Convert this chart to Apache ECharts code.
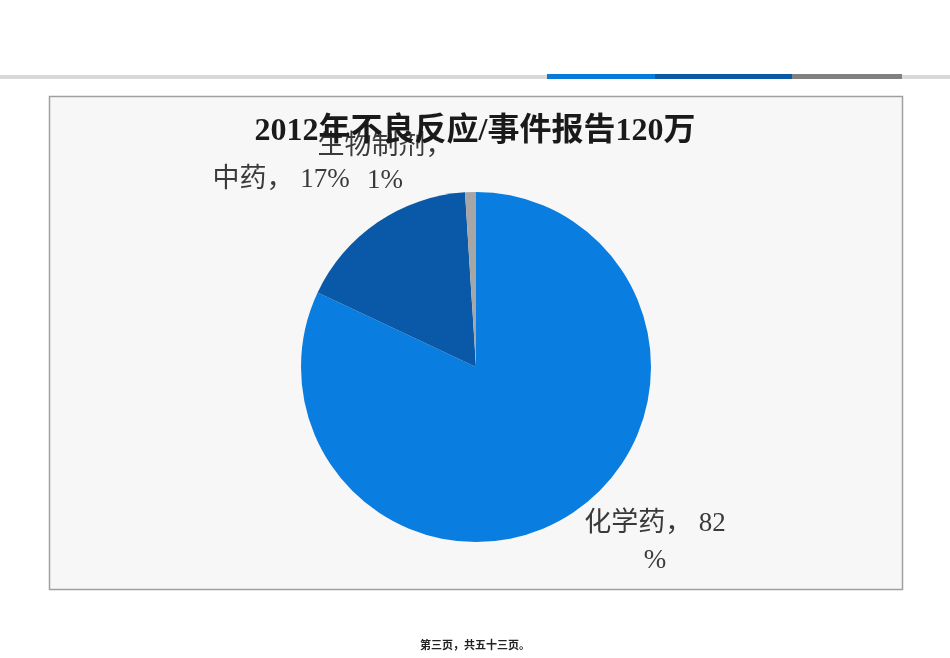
<!DOCTYPE html>
<html>
<head>
<meta charset="utf-8">
<script src="https://cdn.jsdelivr.net/npm/echarts@6/dist/echarts.min.js"></script>
<style>
html,body{margin:0;padding:0;background:#fff;}
#c{width:950px;height:658px;}
</style>
</head>
<body>
<div id="c"></div>
<script>
// ---- data ----
const titleText = '2012年不良反应/事件报告120万';
const categories = ['化学药', '中药', '生物制剂'];
const values = [82, 17, 1];
const colors = ['#0a7de0', '#0959a8', '#a6a6a6'];
const labelFormats = ['{b}， {c}\n%', '{b}， {c}%', '{b}，\n{c}%'];
const footerText = '第三页，共五十三页。';

// ---- layout ----
const labelPos = [[655, 542], [281, 180], [385, 164]];
const labelLineHeights = [37, 30, 34];

const chart = echarts.init(document.getElementById('c'), null, {renderer: 'canvas'});
const labelFont = '"Liberation Serif", "Noto Sans CJK SC", serif';

const seriesData = categories.map((name, i) => ({
  name: name,
  value: values[i],
  itemStyle: {color: colors[i]},
  label: {formatter: labelFormats[i], lineHeight: labelLineHeights[i]}
}));

chart.setOption({
  backgroundColor: '#ffffff',
  animation: false,
  title: {
    text: titleText,
    left: 'center',
    top: 111,
    textStyle: {
      fontFamily: '"Liberation Serif", "Noto Sans CJK SC", serif',
      fontSize: 32,
      fontWeight: 'bold',
      color: '#1a1a1a'
    }
  },
  graphic: [
    {type: 'rect', shape: {x: 0, y: 75, width: 950, height: 4}, style: {fill: '#d9d9d9'}, z: -10},
    {type: 'rect', shape: {x: 547, y: 74, width: 108, height: 5}, style: {fill: '#0a7ad8'}, z: -9},
    {type: 'rect', shape: {x: 655, y: 74, width: 137, height: 5}, style: {fill: '#0a5aa8'}, z: -9},
    {type: 'rect', shape: {x: 792, y: 74, width: 110, height: 5}, style: {fill: '#808080'}, z: -9},
    {type: 'rect', shape: {x: 49.5, y: 96.5, width: 853, height: 493}, style: {fill: '#f7f7f7', stroke: '#a0a0a0', lineWidth: 1.5}, z: -10},
    {type: 'text', x: 475, y: 645, style: {text: footerText, fill: '#222', font: 'bold 11px "Noto Sans CJK SC"', textAlign: 'center', textVerticalAlign: 'middle'}}
  ],
  series: [{
    type: 'pie',
    center: [476, 367],
    radius: [0, 175],
    startAngle: 90,
    clockwise: true,
    data: seriesData,
    silent: true,
    emphasis: {disabled: true},
    labelLine: {show: false},
    label: {
      show: true,
      position: 'outside',
      fontFamily: labelFont,
      fontSize: 27,
      color: '#3a3a3a'
    },
    labelLayout: function (params) {
      const p = labelPos[params.dataIndex];
      return {x: p[0], y: p[1], align: 'center', verticalAlign: 'middle', hideOverlap: false};
    },
    itemStyle: {borderWidth: 0}
  }]
});
</script>
</body>
</html>
